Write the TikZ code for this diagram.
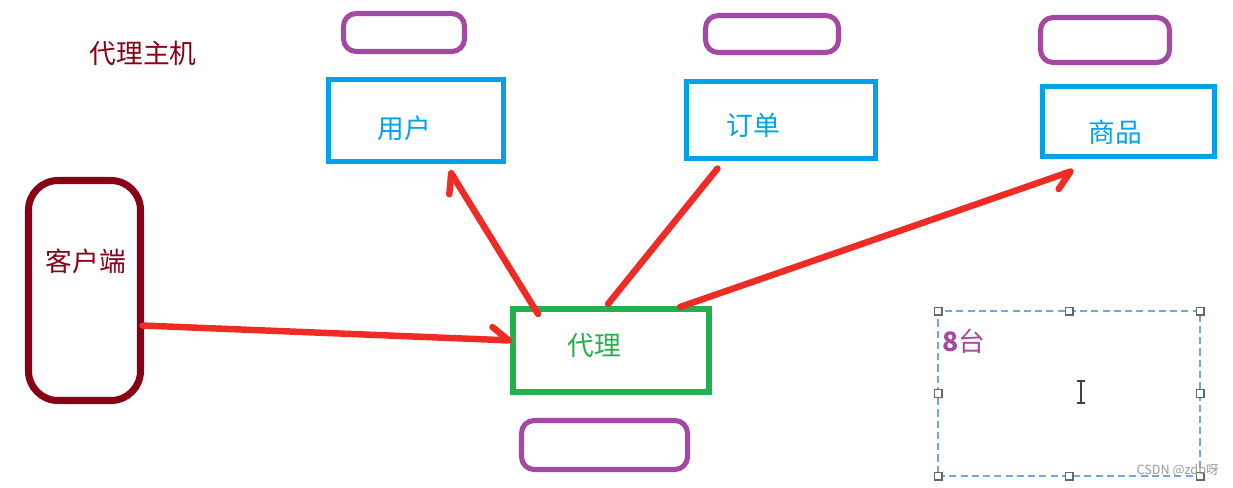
\documentclass[tikz,border=0pt]{standalone}
\usepackage{fontspec}
\setmainfont{Noto Sans CJK SC}
\usetikzlibrary{arrows.meta}

\definecolor{darkred}{HTML}{880015}
\definecolor{paintblue}{HTML}{00A2E8}
\definecolor{paintgreen}{HTML}{22B14C}
\definecolor{paintpurple}{HTML}{A349A4}
\definecolor{arrowred}{HTML}{EE2B24}
\definecolor{selblue}{HTML}{6FA8DC}

\begin{document}
\begin{tikzpicture}[x=0.025cm, y=-0.025cm,
        boxsize/.style 2 args={minimum width=#1*0.025cm, minimum height=#2*0.025cm, inner sep=0pt, outer sep=0pt},
        txt/.style={font=\fontsize{19}{22}\selectfont, inner sep=0pt},
        tablebox/.style={draw=paintblue, line width=3.6pt},
        dbbox/.style={draw=paintpurple, line width=3.6pt, rounded corners=9pt},
        link/.style={draw=arrowred, line width=4.6pt, line cap=round},
        tipl/.style={-{Straight Barb[harpoon, length=12pt, width=18pt, round]}},
        tipr/.style={-{Straight Barb[harpoon, swap, length=12pt, width=18pt, round]}},
        handle/.style={draw=black!60, fill=white, line width=0.9pt, minimum size=5.5pt, inner sep=0pt}]
        \useasboundingbox (0,0) rectangle (1233,487);

        % Client and proxy
        \node[boxsize={112}{220}, draw=darkred, line width=5pt, rounded corners=21pt] (client) at (84.5, 290.5) {};
        \node[boxsize={196}{83}, draw=paintgreen, line width=4.3pt] (proxy) at (611, 350.5) {};

        % Tables
        \node[tablebox, boxsize={175}{82}] (user) at (416, 120.5) {};
        \node[tablebox, boxsize={189}{77}] (order) at (781, 120) {};
        \node[tablebox, boxsize={172}{70}] (goods) at (1128.5, 121.5) {};

        % Databases
        \node[dbbox, boxsize={121}{38}] (db1) at (404, 32.5) {};
        \node[dbbox, boxsize={133}{37}] (db2) at (772, 34) {};
        \node[dbbox, boxsize={129}{45}] (db3) at (1105, 40) {};
        \node[dbbox, boxsize={166}{49}] (db4) at (604.5, 445) {};

        % Connections
        \draw[link, tipl] ([shift={(2,35)}]client.east) -- ([shift={(-1,-10)}]proxy.west);
        \draw[link, tipl] ([shift={(25,5)}]proxy.north west) -- ([shift={(121,9)}]user.south west);
        \draw[link] ([shift={(-3,-5)}]proxy.north) -- ([shift={(31,10)}]order.south west);
        \draw[link, tipr] ([shift={(-29,-2)}]proxy.north east) -- ([shift={(31,14)}]goods.south west);

        % Labels
        \node[txt, text=darkred] (title) at (143, 53) {代理主机};
        \node[txt, text=darkred] (clientlbl) at (86, 261) {客户端};
        \node[txt, text=paintgreen] (proxylbl) at (594, 346) {代理};
        \node[txt, text=paintblue] (userlbl) at (404, 128) {用户};
        \node[txt, text=paintblue] (orderlbl) at (753, 125) {订单};
        \node[txt, text=paintblue] (goodslbl) at (1115, 132) {商品};

        % Text box
        \node[boxsize={262}{165}, draw=selblue, line width=1.2pt, dash pattern=on 5pt off 3pt] (tbox) at (1069, 393.5) {};
        \foreach \a in {north west, north, north east, east, south east, south, south west, west}
            \node[handle] at (tbox.\a) {};
        \node[txt, text=paintpurple, anchor=west] (count) at (942, 341) {\textbf{8}台};
        \draw[black!75, line width=1.1pt] (1081, 381) -- (1081, 403) (1077, 381) -- (1085, 381) (1077, 403) -- (1085, 403);
        \node[anchor=east, text=black!40, font=\fontsize{9}{10}\selectfont, inner sep=0pt] (mark) at (1219, 471) {CSDN @zdb呀};
    \end{tikzpicture}
\end{document}
